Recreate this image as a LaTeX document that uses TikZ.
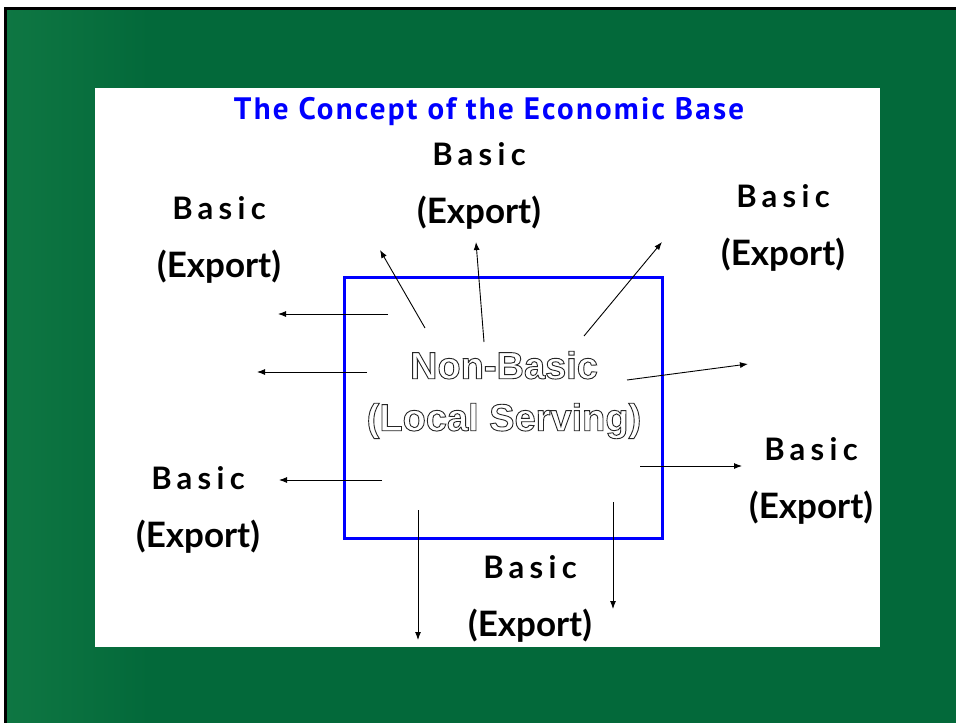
\documentclass[tikz,border=0pt]{standalone}
\usepackage{fontspec}
\usetikzlibrary{arrows.meta}
\setmainfont{Liberation Sans}
\newfontfamily\titlefont{PT Sans}[LetterSpace=7]
\newfontfamily\basicfont{Lato}[LetterSpace=17]
\newfontfamily\exportfont{Lato}
\definecolor{slidegreen}{HTML}{03693A}
\definecolor{slidegreenlt}{HTML}{0F7743}
\definecolor{slideblue}{HTML}{0000FF}
% hollow letters: stroke the glyph outlines only
\newcommand{\hollow}[1]{\special{pdf:literal direct 1 Tr 0.9 w}#1\special{pdf:literal direct 0 Tr}}

\begin{document}
\begin{tikzpicture}[x=1pt, y=-1pt,
    export/.style={align=center, font=\exportfont\bfseries\fontsize{35}{58}\selectfont},
    flow/.style={-{Latex[length=8pt,width=6pt]}, line width=0.9pt, black}
  ]
    \useasboundingbox (0,0) rectangle (956,723);
    % slide background
    \fill[slidegreen] (4,7) rectangle (956,723);
    \shade[left color=slidegreenlt, right color=slidegreen] (4,7) rectangle (150,723);
    \draw[black, line width=3pt] (5,723) -- (5,8) -- (956,8);
    \fill[white] (95,88) rectangle (880,647);

    \node[font=\titlefont\bfseries\fontsize{31}{36}\selectfont, text=slideblue, anchor=base]
      (title) at (489,119) {The Concept of the Economic Base};

    % local sector
    \draw[slideblue, line width=3pt] (344,277) rectangle (662,538);
    \node[align=center, text=black!85, font=\bfseries\fontsize{38}{52}\selectfont] (nonbasic) at (504,395)
      {\hollow{Non-Basic}\\\hollow{(Local Serving)}};

    % export sectors
    \node[export] (basicTL) at (219,240) {{\basicfont\bfseries\fontsize{31}{58}\selectfont Basic}\\(Export)};
    \node[export] (basicTC) at (479,186) {{\basicfont\bfseries\fontsize{31}{58}\selectfont Basic}\\(Export)};
    \node[export] (basicTR) at (783,228) {{\basicfont\bfseries\fontsize{31}{58}\selectfont Basic}\\(Export)};
    \node[export] (basicR) at (811,481) {{\basicfont\bfseries\fontsize{31}{58}\selectfont Basic}\\(Export)};
    \node[export] (basicBL) at (198,510) {{\basicfont\bfseries\fontsize{31}{58}\selectfont Basic}\\(Export)};
    \node[export] (basicBC) at (530,599) {{\basicfont\bfseries\fontsize{31}{58}\selectfont Basic}\\(Export)};

    % flows out of the box
    \foreach \sx/\sy/\tx/\ty [count=\i] in {388/314/278/314, 367/372/257/372, 425/328/380/250,
        484/342/476/242, 584/336/662/242, 627/380/748/364, 640/466/742/466,
        382/480/279/480, 418/510/418/640, 613/502/613/609} {
      \coordinate (from\i) at (\sx,\sy);
      \coordinate (to\i) at (\tx,\ty);
      \draw[flow] (from\i) -- (to\i);
    }
\end{tikzpicture}
\end{document}
